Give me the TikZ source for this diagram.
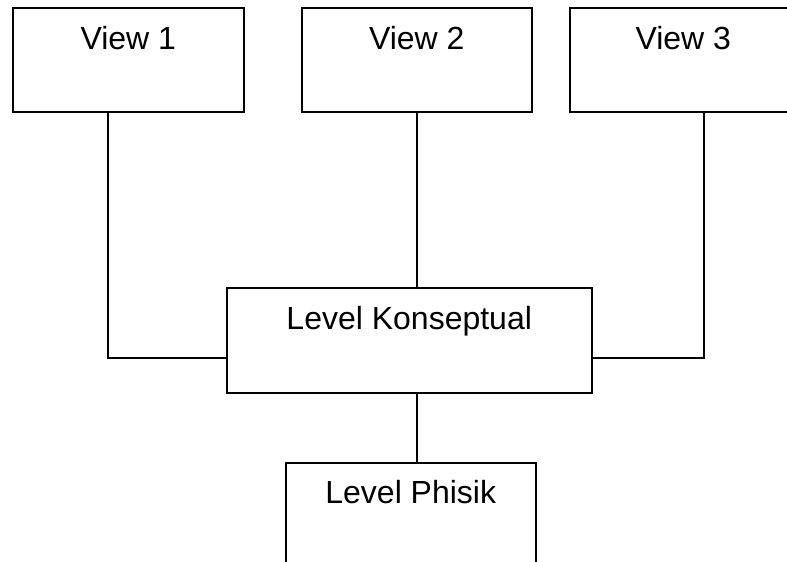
\documentclass[tikz,border=0pt]{standalone}
\usepackage{fontspec}
\setmainfont{Liberation Sans}
\usepackage{tikz}
\usetikzlibrary{calc}

\tikzset{
	box/.style={draw, line width=1.5pt, inner xsep=0pt, inner ysep=0pt, anchor=north west,
		font=\fontsize{32}{38}\selectfont, text height=42pt, text depth=62pt},
	wire/.style={line width=1.5pt}
}

\begin{document}
\begin{tikzpicture}[x=1pt, y=-1pt]
	
	\clip (0,0) rectangle (787,562);
	
	\node[box, minimum width=231pt] (view1) at (12,7) {View 1};
	\node[box, minimum width=230pt] (view2) at (301,7) {View 2};
	\node[box, minimum width=227pt] (view3) at (569,7) {View 3};
	\node[box, minimum width=365pt, text depth=63pt] (konsep) at (226,287) {Level Konseptual};
	\node[box, minimum width=250pt, text height=41pt, text depth=80pt] (phisik) at (285,462) {Level Phisik};
	
	\coordinate (a) at ([xshift=96pt]view1.south west);
	\coordinate (b) at ([xshift=135pt]view3.south west);
	\coordinate (c) at ([yshift=-17.5pt]konsep.west);
	\coordinate (d) at ([yshift=-17.5pt]konsep.east);
	\coordinate (e) at ([xshift=7.5pt]konsep.south);
	
	\draw[wire] (a) |- (c);
	\draw[wire] (b) |- (d);
	\draw[wire] (view2.south) -- (view2.south |- konsep.north);
	\draw[wire] (e) -- (e |- phisik.north);
	
\end{tikzpicture}
\end{document}
